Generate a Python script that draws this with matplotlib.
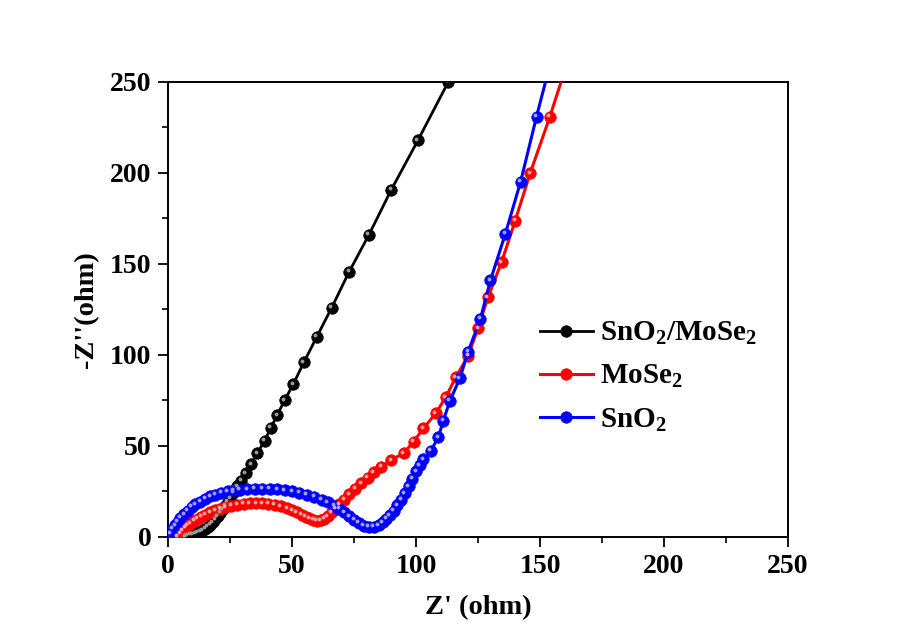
import matplotlib
matplotlib.use("Agg")
import matplotlib.pyplot as plt
from matplotlib.transforms import offset_copy

# ---------------- data ----------------
comp_x = [7, 8, 9, 10, 11, 12, 13, 14, 15, 16, 17, 18, 19, 20, 21, 22, 23, 24, 25,
          26.5, 28, 29.5, 31.3, 33.5, 36, 39, 41.5, 44, 47, 50.5, 54.8, 60, 66, 73,
          81, 90, 100.8, 113]
comp_y = [0.3, 0.8, 1.2, 1.6, 2, 2.5, 3, 3.6, 4.5, 5.5, 6.8, 8.2, 9.8, 11.5, 13.3,
          15.2, 17.2, 19.3, 21.4, 24.5, 27.8, 31, 35, 40, 46, 53, 60, 67, 75, 84, 96,
          110, 126, 145.6, 166, 190.7, 218, 250]

mose2_x = [4, 5, 6, 7, 8, 9, 10.5, 12, 13.5, 15, 17, 19, 21, 23, 25.5, 28, 30.5, 33,
           35.5, 38, 40.5, 43, 45.5, 48, 50, 52, 54, 55.5, 57, 58.5, 60, 61.5, 63,
           64.5, 66, 67.5, 69, 71, 73, 75.5, 78, 80.5, 83, 86, 90, 95, 99, 103, 108,
           112, 116, 121, 125, 129, 134.5, 140, 146, 154, 162]
mose2_y = [0.5, 2, 3.5, 5, 6.3, 7.5, 8.8, 10, 11.2, 12.3, 13.5, 14.6, 15.6, 16.4,
           17.2, 17.8, 18.2, 18.5, 18.6, 18.5, 18.2, 17.6, 16.8, 15.8, 14.8, 13.6,
           12.3, 11.2, 10.2, 9.4, 9, 9.2, 10, 11.5, 13.5, 15.5, 18, 20.5, 23.5, 26.5,
           29.5, 32.5, 35.5, 38.5, 42.3, 46, 52.4, 59.7, 68, 76.8, 87.7, 99.5, 114.7,
           131.7, 151, 173.8, 199.8, 231, 265]

sno2_x = [1, 2, 3, 4, 5, 6.5, 8, 9.5, 11, 13, 15, 17, 19, 21.5, 24, 26.5, 29, 32, 35,
          38, 41, 44, 47, 50, 53, 56, 59, 62, 64.5, 67, 69, 71, 73, 75, 77, 79, 81,
          83, 85, 86.5, 88, 89.5, 91, 92.5, 94, 95.5, 97, 98.5, 100, 101.5, 103,
          106, 109, 111, 113.7, 117.7, 121, 126, 130, 136, 142.2, 148.6, 156]
sno2_y = [2, 4.5, 6.5, 8.5, 10.5, 12.5, 14.5, 16.5, 18, 19.5, 21, 22.3, 23.3, 24.3,
          25, 25.6, 26, 26.3, 26.5, 26.6, 26.5, 26.2, 25.7, 25, 24.2, 23.2, 22, 20.5,
          19, 17.2, 15.5, 13.5, 11.5, 9.5, 7.8, 6.3, 5.5, 5.5, 6.5, 8, 10, 12, 14.5,
          17.5, 20.5, 24, 28, 32, 36, 39.5, 42.7, 47.4, 54.8, 63.9, 74.9, 87.2, 101.8,
          120, 141, 166.5, 195.3, 231, 270]

labels = [r"SnO$_2$/MoSe$_2$", r"MoSe$_2$", r"SnO$_2$"]
colors = ["#000000", "#ff0000", "#0000ff"]
highlights = ["#9a9a9a", "#ffa0a0", "#a0a0ff"]

x_ticks = [0, 50, 100, 150, 200, 250]
y_ticks = [0, 50, 100, 150, 200, 250]

# ---------------- style ----------------
plt.rcParams["font.family"] = ["Liberation Serif", "DejaVu Serif"]
plt.rcParams["font.weight"] = "bold"
plt.rcParams["mathtext.fontset"] = "custom"
plt.rcParams["mathtext.rm"] = "Liberation Serif:bold"
plt.rcParams["mathtext.it"] = "Liberation Serif:bold"
plt.rcParams["mathtext.bf"] = "Liberation Serif:bold"

fig = plt.figure(figsize=(8.97, 6.37), dpi=100)
ax = fig.add_axes([0.1873, 0.157, 0.6912, 0.7143])

series = [(comp_x, comp_y), (mose2_x, mose2_y), (sno2_x, sno2_y)]
lws = [2.0, 2.2, 2.2]
hl_tr = offset_copy(ax.transData, fig=fig, x=-1.5, y=1.5, units="dots")
for (xs, ys), lab, c, h, lw in zip(series, labels, colors, highlights, lws):
    ax.plot(xs, ys, "-o", color=c, lw=lw, ms=8.3, mfc=c, mec=c, mew=0.5,
            label=lab, clip_on=True, zorder=3)
    ax.plot(xs, ys, "o", color=h, ms=2.8, mec="none", transform=hl_tr,
            clip_on=True, zorder=4)

ax.set_xlim(0, 250)
ax.set_ylim(0, 250)
ax.set_xticks(x_ticks)
ax.set_yticks(y_ticks)
ax.set_xticks([25, 75, 125, 175, 225], minor=True)
ax.set_yticks([25, 75, 125, 175, 225], minor=True)
ax.tick_params(which="major", direction="out", length=7, width=1.3,
               labelsize=20, pad=5)
ax.tick_params(which="minor", direction="out", length=4, width=1.2)
for sp in ax.spines.values():
    sp.set_linewidth(1.4)

ax.set_xlabel("Z' (ohm)", fontsize=20.5, fontweight="bold", labelpad=12)
ax.set_ylabel("-Z''(ohm)", fontsize=20.5, fontweight="bold", labelpad=8)

leg = ax.legend(loc="center left", bbox_to_anchor=(0.6, 0.352), frameon=False,
                fontsize=21, handlelength=1.8, handletextpad=0.25,
                labelspacing=0.55, borderpad=0, borderaxespad=0)

fig.savefig("out.png", dpi=100)
